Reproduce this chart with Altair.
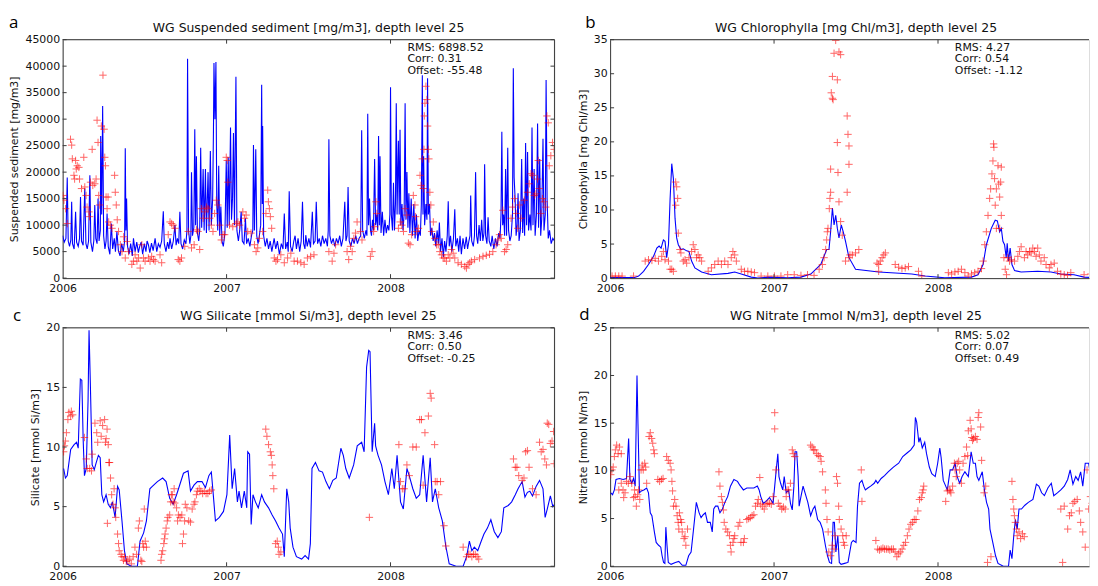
import altair as alt
import pandas as pd

# ---------------- data (decimal year, value) ----------------
A_LINE = [
(2006.000,8000),(2006.010,6800),(2006.020,7500),(2006.028,19000),(2006.034,7000),(2006.042,6000),(2006.050,7200),
(2006.055,14400),(2006.060,6500),(2006.070,5500),(2006.079,12500),(2006.085,6800),(2006.095,6000),(2006.103,7500),
(2006.109,15300),(2006.115,7000),(2006.125,6200),(2006.135,16900),(2006.142,6500),(2006.150,5500),(2006.158,7000),
(2006.166,19400),(2006.172,6800),(2006.182,5000),(2006.190,7000),(2006.196,13800),(2006.202,7500),(2006.210,6500),
(2006.216,15000),(2006.222,7000),(2006.230,9000),(2006.232,26800),(2006.238,12000),(2006.244,32500),(2006.250,8000),
(2006.258,5500),(2006.265,7000),(2006.271,12200),(2006.278,6000),(2006.288,4500),(2006.297,10300),(2006.305,5500),
(2006.315,7500),(2006.322,5000),(2006.331,8800),(2006.340,5200),(2006.350,4200),(2006.360,6500),(2006.370,5000),
(2006.378,7000),(2006.382,24500),(2006.386,9000),(2006.390,15000),(2006.396,6000),(2006.405,4500),(2006.415,6500),
(2006.425,4200),(2006.432,7500),(2006.442,5000),(2006.452,6800),(2006.462,4800),(2006.470,6000),(2006.479,6800),
(2006.488,4500),(2006.498,6500),(2006.508,5000),(2006.515,7000),(2006.523,6300),(2006.532,4800),(2006.542,6600),
(2006.552,5200),(2006.564,7500),(2006.574,5000),(2006.584,6500),(2006.594,5800),(2006.604,7000),(2006.614,12600),
(2006.620,6500),(2006.630,5000),(2006.640,6800),(2006.648,5500),(2006.655,7500),(2006.665,5500),(2006.675,7000),
(2006.685,10000),(2006.692,6200),(2006.700,7500),(2006.708,6500),(2006.715,12500),(2006.722,6500),(2006.732,5500),
(2006.742,7200),(2006.752,6500),(2006.758,9000),(2006.762,41400),(2006.768,9000),(2006.776,6500),(2006.782,8000),
(2006.786,20000),(2006.792,8000),(2006.800,9500),(2006.806,28100),(2006.811,10000),(2006.816,23000),(2006.822,8500),
(2006.830,7000),(2006.836,9000),(2006.842,24600),(2006.848,9500),(2006.857,20600),(2006.863,9000),(2006.871,20600),
(2006.877,8500),(2006.887,20000),(2006.893,9000),(2006.901,24000),(2006.907,10000),(2006.915,15000),(2006.920,28000),
(2006.923,40600),(2006.929,30000),(2006.935,40800),(2006.940,14000),(2006.946,9000),(2006.952,21200),(2006.958,8000),
(2006.965,13500),(2006.972,7000),(2006.980,6000),(2006.990,8500),(2006.998,22200),(2007.004,9500),(2007.010,22800),
(2007.016,10000),(2007.024,28400),(2007.030,11000),(2007.036,15000),(2007.042,27400),(2007.048,10000),(2007.057,38000),
(2007.063,9000),(2007.072,7000),(2007.080,9000),(2007.089,12500),(2007.096,7000),(2007.106,6500),(2007.115,11300),
(2007.122,6500),(2007.132,7500),(2007.142,6000),(2007.152,8000),(2007.160,9000),(2007.164,25100),(2007.170,9000),
(2007.178,24300),(2007.184,8000),(2007.192,6500),(2007.200,8000),(2007.208,10000),(2007.214,36500),(2007.218,14000),
(2007.220,28700),(2007.226,8000),(2007.236,6000),(2007.246,7500),(2007.256,5500),(2007.266,7000),(2007.276,5000),
(2007.290,7500),(2007.300,5500),(2007.310,7000),(2007.322,4500),(2007.334,6500),(2007.344,5500),(2007.352,12200),
(2007.360,5500),(2007.370,6800),(2007.376,5000),(2007.382,16400),(2007.390,6000),(2007.400,5000),(2007.410,7000),
(2007.418,8000),(2007.426,5500),(2007.436,7500),(2007.446,5000),(2007.455,7000),(2007.463,14400),(2007.470,6500),
(2007.478,5500),(2007.483,8100),(2007.492,6000),(2007.502,7500),(2007.512,5800),(2007.523,12500),(2007.530,6500),
(2007.540,7000),(2007.547,14400),(2007.555,6500),(2007.565,7500),(2007.575,6000),(2007.585,8000),(2007.595,6500),
(2007.605,7500),(2007.615,6000),(2007.620,9000),(2007.624,26200),(2007.630,8000),(2007.640,6500),(2007.650,7500),
(2007.660,6000),(2007.670,7500),(2007.680,6500),(2007.690,8000),(2007.700,6000),(2007.710,7500),(2007.721,14400),
(2007.728,7000),(2007.735,8000),(2007.741,17200),(2007.748,7000),(2007.758,6000),(2007.768,7500),(2007.778,6500),
(2007.788,8000),(2007.798,6500),(2007.808,7500),(2007.818,8000),(2007.824,27900),(2007.830,9000),(2007.840,7500),
(2007.850,9000),(2007.856,8000),(2007.861,31000),(2007.866,10000),(2007.872,15000),(2007.878,9000),(2007.884,8000),
(2007.890,11000),(2007.896,9000),(2007.903,22500),(2007.909,10000),(2007.916,12000),(2007.922,9000),(2007.927,26800),
(2007.932,10000),(2007.936,23000),(2007.942,8500),(2007.950,12500),(2007.958,8000),(2007.966,11000),(2007.974,8500),
(2007.982,10000),(2007.990,9000),(2007.996,12000),(2008.000,36000),(2008.005,12000),(2008.012,9000),(2008.018,18000),
(2008.024,9000),(2008.030,14000),(2008.035,33000),(2008.040,12000),(2008.044,20000),(2008.048,25900),(2008.053,12000),
(2008.058,28000),(2008.063,10000),(2008.070,14000),(2008.076,9000),(2008.083,12000),(2008.089,33000),(2008.094,11000),
(2008.100,20000),(2008.106,9500),(2008.112,16000),(2008.118,8500),(2008.126,15000),(2008.134,8000),(2008.142,14000),
(2008.150,7500),(2008.158,12000),(2008.166,7000),(2008.174,9000),(2008.182,8000),(2008.188,14000),(2008.194,38300),
(2008.198,12000),(2008.202,23000),(2008.208,10000),(2008.216,14000),(2008.222,11000),(2008.226,37700),(2008.231,12000),
(2008.238,14000),(2008.244,8000),(2008.252,9500),(2008.260,7000),(2008.268,8500),(2008.276,6000),(2008.284,9000),
(2008.292,6500),(2008.298,10500),(2008.305,5000),(2008.314,7500),(2008.322,4000),(2008.330,7000),(2008.338,5000),
(2008.346,8000),(2008.352,14500),(2008.358,6000),(2008.366,8000),(2008.374,5000),(2008.384,7500),(2008.392,13000),
(2008.398,6000),(2008.408,7500),(2008.416,5000),(2008.424,8000),(2008.432,4500),(2008.442,7500),(2008.452,5500),
(2008.462,7800),(2008.470,5500),(2008.478,7000),(2008.485,8000),(2008.489,15600),(2008.495,7000),(2008.505,6000),
(2008.512,8000),(2008.519,20000),(2008.525,8000),(2008.532,6500),(2008.540,10000),(2008.548,7000),(2008.556,11000),
(2008.563,7000),(2008.570,8500),(2008.574,21500),(2008.580,8000),(2008.588,6500),(2008.595,11500),(2008.602,7000),
(2008.612,6000),(2008.620,8000),(2008.630,5500),(2008.640,7500),(2008.650,6000),(2008.660,8500),(2008.668,7500),
(2008.674,12000),(2008.679,27600),(2008.684,10000),(2008.690,12000),(2008.696,8000),(2008.702,20600),(2008.708,8000),
(2008.715,24600),(2008.720,9000),(2008.728,7000),(2008.736,8000),(2008.744,12000),(2008.749,39600),(2008.754,19000),
(2008.760,15000),(2008.766,8000),(2008.772,10000),(2008.778,16000),(2008.784,7000),(2008.792,9000),(2008.800,22500),
(2008.806,8500),(2008.812,15000),(2008.818,8000),(2008.824,25500),(2008.830,10000),(2008.836,23800),(2008.842,9000),
(2008.850,12000),(2008.857,9000),(2008.863,28400),(2008.869,10000),(2008.876,20600),(2008.882,8000),(2008.890,12000),
(2008.897,29200),(2008.903,9500),(2008.910,22500),(2008.916,8000),(2008.922,11000),(2008.930,26300),(2008.936,9000),
(2008.944,12000),(2008.949,37400),(2008.955,15000),(2008.962,7500),(2008.970,9000),(2008.980,6500),(2008.990,7500),
(2009.000,7000)]

A_OBS = [
(2006.002,15600),(2006.008,14700),(2006.018,13100),(2006.028,10300),(2006.048,26200),(2006.055,25100),(2006.059,22500),
(2006.069,19400),(2006.073,18700),(2006.079,22200),(2006.083,20600),(2006.089,21200),(2006.099,20900),(2006.103,18700),
(2006.115,16900),(2006.129,22800),(2006.135,17200),(2006.143,15600),(2006.149,13400),(2006.160,12500),(2006.164,11600),
(2006.170,18100),(2006.180,24300),(2006.184,17500),(2006.196,17800),(2006.204,18700),(2006.210,29800),(2006.216,25600),
(2006.220,15600),(2006.226,13800),(2006.236,28700),(2006.246,38300),(2006.253,28100),(2006.257,22800),(2006.261,21200),
(2006.265,15300),(2006.271,13100),(2006.277,15300),(2006.281,10600),(2006.291,10000),(2006.301,9400),(2006.317,19400),
(2006.321,16200),(2006.327,13800),(2006.333,11000),(2006.341,8800),(2006.352,6300),(2006.362,5000),(2006.372,7800),
(2006.382,3800),(2006.392,6900),(2006.402,5000),(2006.422,2600),(2006.432,3200),(2006.442,4400),(2006.453,3200),
(2006.463,3800),(2006.473,1900),(2006.483,6300),(2006.493,3800),(2006.503,3200),(2006.523,3800),(2006.533,3200),
(2006.543,4100),(2006.554,3500),(2006.564,3200),(2006.594,4400),(2006.604,2900),(2006.644,8200),(2006.655,10600),
(2006.665,10300),(2006.675,10000),(2006.685,9400),(2006.705,3500),(2006.715,3200),(2006.725,3800),(2006.745,6000),
(2006.766,8800),(2006.786,5700),(2006.802,6300),(2006.816,9100),(2006.826,8800),(2006.836,5400),(2006.846,13100),
(2006.857,11300),(2006.867,12500),(2006.877,13400),(2006.887,13100),(2006.897,11300),(2006.907,10000),(2006.917,8800),
(2006.927,12200),(2006.937,14700),(2006.947,13800),(2006.958,10000),(2006.968,7200),(2006.978,8200),(2006.988,8200),
(2006.998,22800),(2007.004,22200),(2007.008,18100),(2007.018,10000),(2007.038,9700),(2007.059,10300),(2007.069,10600),
(2007.079,10000),(2007.099,12500),(2007.109,11300),(2007.119,11900),(2007.129,8800),(2007.149,8500),(2007.170,6300),
(2007.180,5000),(2007.190,5700),(2007.200,7500),(2007.220,8800),(2007.240,12200),(2007.251,16600),(2007.255,14400),
(2007.261,13100),(2007.267,11600),(2007.275,9400),(2007.291,3800),(2007.301,3200),(2007.311,3500),(2007.331,4400),
(2007.352,2900),(2007.372,3800),(2007.392,4700),(2007.412,3200),(2007.432,3200),(2007.453,2900),(2007.473,2600),
(2007.493,3800),(2007.513,4100),(2007.533,4400),(2007.624,5000),(2007.644,3200),(2007.655,4700),(2007.665,6300),
(2007.735,5000),(2007.745,3500),(2007.756,6000),(2007.766,5000),(2007.776,7500),(2007.786,8500),(2007.796,10600),
(2007.816,8800),(2007.826,7200),(2007.877,4100),(2007.887,5000),(2007.897,8800),(2007.903,9700),(2007.911,14400),
(2007.917,12200),(2008.048,9400),(2008.059,10600),(2008.069,10000),(2008.079,8800),(2008.089,13100),(2008.099,11900),
(2008.109,6600),(2008.119,6300),(2008.129,8200),(2008.139,15600),(2008.149,13800),(2008.153,11600),(2008.160,8800),
(2008.170,9400),(2008.180,19400),(2008.186,17500),(2008.194,22500),(2008.200,16900),(2008.204,24300),(2008.206,30600),
(2008.210,33000),(2008.216,36200),(2008.222,33700),(2008.226,28700),(2008.230,24300),(2008.234,22500),(2008.240,16200),
(2008.246,13800),(2008.251,8800),(2008.261,10600),(2008.271,7500),(2008.281,6300),(2008.291,6300),(2008.301,5000),
(2008.311,4400),(2008.321,3800),(2008.331,3800),(2008.341,3200),(2008.352,4400),(2008.362,3800),(2008.372,5400),
(2008.382,4700),(2008.392,3800),(2008.412,2900),(2008.432,2600),(2008.453,2200),(2008.463,1900),(2008.473,2600),
(2008.483,2900),(2008.493,3200),(2008.513,3500),(2008.543,3800),(2008.564,4100),(2008.584,4300),(2008.604,4500),
(2008.624,5000),(2008.644,6300),(2008.655,7200),(2008.665,8200),(2008.675,7500),(2008.685,12800),(2008.695,5000),
(2008.705,5400),(2008.715,6300),(2008.735,11300),(2008.745,13400),(2008.756,15000),(2008.766,12200),(2008.776,9400),
(2008.786,13800),(2008.796,11300),(2008.816,14700),(2008.836,16200),(2008.846,17800),(2008.857,19700),(2008.867,19400),
(2008.877,15600),(2008.887,15900),(2008.897,18700),(2008.901,22200),(2008.907,16900),(2008.917,12200),(2008.927,15000),
(2008.937,14400),(2008.947,13400),(2008.954,30600),(2008.962,29300),(2008.968,21200),(2008.978,23100),(2008.988,25600),
(2008.998,24300)]

B_LINE = [
(2006.000,0.1),(2006.150,0.1),(2006.174,0.3),(2006.204,1.0),(2006.234,2.0),(2006.265,3.2),(2006.285,4.4),(2006.299,4.7),
(2006.311,4.4),(2006.325,5.6),(2006.335,5.4),(2006.345,3.0),(2006.356,4.9),(2006.366,11.7),(2006.376,16.8),(2006.386,14.6),
(2006.396,8.8),(2006.406,5.9),(2006.416,4.9),(2006.432,4.2),(2006.446,4.3),(2006.467,4.0),(2006.481,3.9),(2006.497,2.5),
(2006.517,1.5),(2006.558,0.9),(2006.618,0.5),(2006.719,0.7),(2006.760,0.9),(2006.800,0.6),(2006.861,0.15),(2006.901,0.0),
(2006.962,0.15),(2007.083,0.05),(2007.164,0.15),(2007.224,0.6),(2007.285,2.0),(2007.321,4.2),(2007.335,4.2),(2007.345,6.8),
(2007.356,10.3),(2007.366,7.8),(2007.376,9.2),(2007.386,7.3),(2007.396,5.9),(2007.410,7.8),(2007.422,6.8),(2007.436,5.4),
(2007.457,3.0),(2007.497,1.3),(2007.638,0.9),(2007.840,0.6),(2007.921,0.3),(2008.042,0.05),(2008.204,0.15),(2008.244,0.5),
(2008.275,2.0),(2008.295,4.9),(2008.325,7.3),(2008.349,8.5),(2008.362,8.4),(2008.376,6.8),(2008.386,7.3),(2008.396,5.4),
(2008.406,4.9),(2008.416,3.0),(2008.422,5.1),(2008.430,2.5),(2008.440,4.4),(2008.451,2.0),(2008.467,1.1),(2008.507,0.9),
(2008.608,1.0),(2008.689,0.9),(2008.749,0.6),(2008.830,0.5),(2008.891,0.15),(2008.972,0.05)]

B_OBS = [
(2006.012,0.3),(2006.032,0.3),(2006.053,0.3),(2006.073,0.3),(2006.143,0.3),(2006.214,2.5),(2006.234,2.7),(2006.255,2.6),
(2006.275,2.9),(2006.295,2.5),(2006.315,3.2),(2006.325,3.9),(2006.335,2.7),(2006.356,2.5),(2006.366,1.3),(2006.376,1.3),
(2006.386,1.0),(2006.400,14.1),(2006.406,13.4),(2006.412,11.7),(2006.400,10.7),(2006.416,6.6),(2006.426,4.2),(2006.432,3.7),
(2006.446,2.5),(2006.457,2.7),(2006.467,2.2),(2006.481,3.0),(2006.497,3.9),(2006.507,4.9),(2006.517,4.2),(2006.527,3.0),
(2006.537,3.4),(2006.547,3.0),(2006.558,2.5),(2006.598,1.0),(2006.618,1.5),(2006.638,2.0),(2006.659,2.5),(2006.679,2.0),
(2006.699,2.5),(2006.719,2.0),(2006.739,3.0),(2006.749,3.9),(2006.760,3.4),(2006.770,2.5),(2006.800,1.3),(2006.820,1.0),
(2006.840,1.0),(2006.861,0.9),(2006.881,0.8),(2006.921,0.3),(2006.962,0.3),(2007.002,0.3),(2007.042,0.3),(2007.083,0.5),
(2007.123,0.5),(2007.164,0.4),(2007.204,0.5),(2007.244,0.4),(2007.275,1.3),(2007.295,2.0),(2007.305,3.0),(2007.315,4.2),
(2007.321,5.6),(2007.325,6.8),(2007.329,7.3),(2007.337,10.2),(2007.341,11.7),(2007.345,12.6),(2007.345,16.0),(2007.349,27.2),
(2007.356,29.6),(2007.356,26.4),(2007.360,26.2),(2007.366,33.0),(2007.376,34.9),(2007.386,29.1),(2007.386,19.9),(2007.390,15.5),
(2007.396,11.2),(2007.396,33.2),(2007.406,32.8),(2007.406,8.3),(2007.416,6.3),(2007.446,23.8),(2007.451,21.1),(2007.457,19.4),
(2007.457,16.7),(2007.446,12.6),(2007.463,3.4),(2007.436,2.5),(2007.457,3.0),(2007.477,3.4),(2007.497,3.7),(2007.517,4.2),
(2007.628,2.2),(2007.638,2.0),(2007.638,1.0),(2007.648,2.5),(2007.659,3.0),(2007.669,3.4),(2007.679,3.7),(2007.739,2.0),
(2007.760,1.6),(2007.780,1.4),(2007.800,1.5),(2007.820,1.7),(2007.881,1.0),(2007.901,0.3),(2008.063,0.8),(2008.083,0.6),
(2008.103,0.9),(2008.123,1.0),(2008.143,1.3),(2008.164,0.8),(2008.184,0.3),(2008.204,0.6),(2008.224,0.8),(2008.244,1.0),
(2008.265,1.4),(2008.275,2.5),(2008.285,4.9),(2008.295,6.8),(2008.305,9.2),(2008.315,11.7),(2008.321,13.1),(2008.329,15.3),
(2008.335,17.2),(2008.339,19.7),(2008.341,19.2),(2008.345,14.6),(2008.349,10.7),(2008.356,13.1),(2008.366,16.5),(2008.370,13.8),
(2008.376,11.9),(2008.382,14.1),(2008.386,16.3),(2008.386,9.2),(2008.376,7.3),(2008.356,7.3),(2008.402,3.0),(2008.410,1.3),
(2008.418,0.5),(2008.426,3.0),(2008.436,2.5),(2008.446,2.7),(2008.467,2.5),(2008.487,3.2),(2008.497,3.9),(2008.507,4.6),
(2008.527,3.0),(2008.537,3.9),(2008.547,3.4),(2008.558,3.9),(2008.568,3.7),(2008.578,4.4),(2008.588,3.9),(2008.598,3.2),
(2008.608,4.4),(2008.618,3.4),(2008.628,2.5),(2008.648,3.0),(2008.659,2.0),(2008.679,1.5),(2008.689,2.0),(2008.709,2.2),
(2008.729,1.0),(2008.749,0.6),(2008.770,0.5),(2008.790,0.4),(2008.810,0.8),(2008.891,0.5),(2008.931,0.6),(2008.952,0.5)]

C_LINE = [
(2006.006,8.2),(2006.017,7.4),(2006.028,7.6),(2006.049,9.8),(2006.070,10.2),(2006.085,10.4),(2006.095,9.9),(2006.108,15.7),
(2006.117,15.6),(2006.125,10.7),(2006.133,7.6),(2006.144,8.2),(2006.155,13.9),(2006.161,19.8),(2006.169,15.3),(2006.180,8.5),
(2006.193,8.1),(2006.203,8.6),(2006.218,9.3),(2006.229,9.1),(2006.239,6.0),(2006.250,5.4),(2006.265,6.0),(2006.278,5.2),
(2006.292,4.9),(2006.303,5.4),(2006.320,4.1),(2006.335,6.7),(2006.345,6.4),(2006.362,3.8),(2006.377,1.3),(2006.392,0.2),
(2006.419,0.0),(2006.456,0.0),(2006.472,2.1),(2006.494,2.8),(2006.511,3.8),(2006.532,6.5),(2006.547,6.7),(2006.578,7.1),
(2006.610,7.4),(2006.631,7.1),(2006.653,5.7),(2006.674,5.2),(2006.695,6.0),(2006.716,6.9),(2006.737,7.8),(2006.765,8.0),
(2006.780,6.3),(2006.801,6.8),(2006.822,7.1),(2006.850,7.1),(2006.871,6.6),(2006.892,7.6),(2006.907,7.9),(2006.917,6.3),
(2006.932,3.8),(2006.956,4.1),(2006.981,4.6),(2007.002,6.0),(2007.019,11.0),(2007.034,6.5),(2007.049,8.2),(2007.066,5.4),
(2007.076,6.3),(2007.091,4.9),(2007.108,6.3),(2007.123,4.9),(2007.129,9.6),(2007.140,9.4),(2007.150,3.5),(2007.161,6.0),
(2007.176,5.4),(2007.193,4.9),(2007.214,6.0),(2007.231,5.4),(2007.256,4.9),(2007.278,4.3),(2007.299,3.8),(2007.320,3.2),
(2007.341,2.7),(2007.352,0.8),(2007.367,6.5),(2007.379,5.4),(2007.388,3.2),(2007.405,1.6),(2007.426,0.8),(2007.458,0.6),
(2007.479,0.9),(2007.500,0.6),(2007.511,1.9),(2007.521,8.2),(2007.542,8.7),(2007.564,8.0),(2007.585,7.9),(2007.606,7.1),
(2007.627,6.5),(2007.648,7.2),(2007.669,7.4),(2007.697,9.9),(2007.712,9.3),(2007.727,8.2),(2007.748,7.4),(2007.775,8.5),
(2007.797,10.1),(2007.824,10.4),(2007.839,9.6),(2007.854,16.7),(2007.867,18.1),(2007.875,18.0),(2007.888,9.6),(2007.903,12.0),
(2007.909,10.1),(2007.924,9.3),(2007.945,8.5),(2007.966,7.1),(2007.987,6.0),(2008.008,8.2),(2008.023,6.5),(2008.040,9.3),
(2008.061,5.4),(2008.078,4.8),(2008.100,8.2),(2008.114,7.6),(2008.136,6.5),(2008.157,5.7),(2008.178,6.0),(2008.199,9.3),
(2008.220,5.4),(2008.242,9.1),(2008.256,5.4),(2008.273,6.5),(2008.294,4.9),(2008.316,3.8),(2008.337,1.7),(2008.358,0.2),
(2008.400,0.0),(2008.443,0.0),(2008.464,0.8),(2008.481,2.1),(2008.496,1.3),(2008.511,1.6),(2008.532,1.3),(2008.553,2.1),
(2008.570,2.7),(2008.591,3.2),(2008.612,3.9),(2008.633,2.9),(2008.655,2.4),(2008.676,2.9),(2008.691,4.9),(2008.718,5.1),
(2008.739,5.4),(2008.761,6.0),(2008.778,6.5),(2008.803,7.1),(2008.820,5.8),(2008.835,6.2),(2008.850,6.3),(2008.866,5.9),
(2008.888,6.7),(2008.909,7.2),(2008.930,6.5),(2008.943,4.1),(2008.956,4.8),(2008.975,5.9),(2008.990,5.0),(2009.000,5.2)]

C_OBS = [
(2006.006,9.6),(2006.011,10.1),(2006.017,10.5),(2006.023,11.2),(2006.032,12.3),(2006.038,12.9),(2006.049,12.6),(2006.053,13.0),
(2006.061,12.7),(2006.133,10.8),(2006.144,9.0),(2006.150,8.2),(2006.165,8.2),(2006.176,8.0),(2006.180,9.4),(2006.197,12.0),
(2006.208,11.2),(2006.214,10.4),(2006.229,12.2),(2006.235,10.9),(2006.244,11.8),(2006.256,12.3),(2006.261,10.4),(2006.265,10.7),
(2006.271,11.5),(2006.278,10.2),(2006.282,8.7),(2006.286,8.7),(2006.273,3.6),(2006.292,7.4),(2006.299,6.0),(2006.307,5.2),
(2006.314,6.5),(2006.320,4.9),(2006.324,4.1),(2006.335,2.7),(2006.341,1.9),(2006.345,1.3),(2006.356,1.0),(2006.362,0.8),
(2006.371,0.5),(2006.377,0.8),(2006.388,0.4),(2006.398,0.5),(2006.409,0.6),(2006.419,0.2),(2006.430,0.8),(2006.441,1.6),
(2006.451,1.0),(2006.462,3.2),(2006.468,3.8),(2006.477,0.5),(2006.483,0.4),(2006.489,1.9),(2006.494,1.6),(2006.498,4.8),
(2006.504,2.1),(2006.511,1.6),(2006.600,0.5),(2006.604,1.0),(2006.610,1.3),(2006.617,1.9),(2006.621,2.3),(2006.625,2.7),
(2006.631,3.2),(2006.638,3.8),(2006.642,4.1),(2006.653,4.3),(2006.659,5.4),(2006.663,6.0),(2006.669,6.0),(2006.674,5.4),
(2006.680,6.5),(2006.684,5.3),(2006.695,4.9),(2006.701,3.8),(2006.706,4.3),(2006.716,4.1),(2006.727,4.3),(2006.731,1.9),
(2006.737,2.7),(2006.744,3.8),(2006.748,5.2),(2006.758,4.9),(2006.769,3.8),(2006.780,3.7),(2006.790,4.8),(2006.801,5.2),
(2006.807,5.4),(2006.816,6.0),(2006.822,6.3),(2006.833,6.5),(2006.843,6.3),(2006.854,6.1),(2006.864,6.3),(2006.875,6.1),
(2006.886,6.1),(2006.896,6.3),(2006.907,6.4),(2007.239,11.5),(2007.246,10.9),(2007.256,10.2),(2007.267,9.6),(2007.273,9.3),
(2007.278,8.5),(2007.282,7.6),(2007.288,6.5),(2007.299,1.9),(2007.309,2.1),(2007.316,1.6),(2007.320,1.0),(2007.331,1.2),
(2007.871,4.1),(2008.051,10.2),(2008.061,7.1),(2008.072,6.5),(2008.083,6.5),(2008.100,8.5),(2008.114,7.6),(2008.136,10.0),
(2008.157,10.0),(2008.178,12.3),(2008.189,12.3),(2008.199,6.8),(2008.210,11.2),(2008.231,12.6),(2008.242,14.5),(2008.248,14.1),
(2008.269,10.2),(2008.273,7.1),(2008.284,7.1),(2008.294,6.0),(2008.305,7.1),(2008.326,3.4),(2008.337,1.7),(2008.443,1.6),
(2008.464,0.8),(2008.475,1.0),(2008.485,1.0),(2008.496,0.8),(2008.506,1.0),(2008.517,1.0),(2008.528,0.8),(2008.538,0.6),
(2008.750,9.0),(2008.761,8.3),(2008.771,8.3),(2008.782,7.6),(2008.803,7.2),(2008.814,7.4),(2008.824,9.6),(2008.835,9.7),
(2008.845,8.3),(2008.866,6.5),(2008.888,6.0),(2008.909,10.4),(2008.919,9.6),(2008.930,9.8),(2008.941,9.0),(2008.951,8.5),
(2008.956,12.0),(2008.965,11.9),(2008.975,10.3),(2008.985,10.5),(2008.995,11.3),(2008.998,8.6)]

D_LINE = [
(2006.004,7.7),(2006.015,7.5),(2006.026,8.0),(2006.036,9.1),(2006.057,9.2),(2006.079,9.1),(2006.100,9.2),(2006.113,13.4),
(2006.121,9.1),(2006.132,8.7),(2006.143,9.2),(2006.153,8.4),(2006.164,20.0),(2006.170,14.9),(2006.179,7.7),(2006.191,7.9),
(2006.206,8.0),(2006.223,8.2),(2006.234,7.7),(2006.245,5.6),(2006.255,5.3),(2006.270,3.6),(2006.281,2.5),(2006.296,2.2),
(2006.309,2.0),(2006.317,1.1),(2006.326,0.4),(2006.334,0.3),(2006.340,4.1),(2006.347,2.2),(2006.355,0.4),(2006.372,0.2),
(2006.398,0.4),(2006.419,0.5),(2006.440,0.1),(2006.462,0.1),(2006.479,1.1),(2006.494,1.5),(2006.509,3.9),(2006.526,6.7),
(2006.543,5.6),(2006.555,5.1),(2006.568,5.4),(2006.581,5.6),(2006.594,4.6),(2006.611,4.6),(2006.623,3.6),(2006.632,6.0),
(2006.643,6.3),(2006.657,6.3),(2006.670,5.6),(2006.685,6.0),(2006.700,6.7),(2006.717,7.3),(2006.734,8.4),(2006.755,9.1),
(2006.777,8.9),(2006.791,8.5),(2006.813,8.0),(2006.834,8.2),(2006.855,8.2),(2006.877,8.2),(2006.898,8.4),(2006.909,8.0),
(2006.919,7.3),(2006.934,6.6),(2006.951,6.8),(2006.972,7.2),(2006.994,6.6),(2007.004,8.4),(2007.015,10.4),(2007.023,11.8),
(2007.030,9.4),(2007.040,8.7),(2007.053,8.0),(2007.062,9.4),(2007.074,7.7),(2007.089,8.0),(2007.100,6.6),(2007.111,5.9),
(2007.121,8.4),(2007.128,12.0),(2007.138,12.0),(2007.147,9.4),(2007.153,6.3),(2007.164,7.3),(2007.177,8.4),(2007.189,7.7),
(2007.206,6.7),(2007.223,5.3),(2007.238,6.0),(2007.249,6.3),(2007.266,4.9),(2007.281,4.6),(2007.296,3.9),(2007.313,2.2),
(2007.326,1.1),(2007.338,0.4),(2007.351,0.3),(2007.360,4.6),(2007.368,4.6),(2007.377,1.5),(2007.389,3.2),(2007.398,0.4),
(2007.409,0.2),(2007.430,0.3),(2007.451,0.4),(2007.472,2.5),(2007.483,2.7),(2007.500,2.5),(2007.509,6.3),(2007.521,8.7),
(2007.536,9.0),(2007.547,8.4),(2007.557,8.0),(2007.572,8.2),(2007.589,8.4),(2007.611,8.7),(2007.621,9.0),(2007.632,8.7),
(2007.653,9.2),(2007.674,9.5),(2007.696,9.9),(2007.728,10.4),(2007.760,10.8),(2007.785,11.5),(2007.813,11.9),(2007.834,12.2),
(2007.855,12.7),(2007.862,15.6),(2007.870,15.1),(2007.883,13.0),(2007.891,13.5),(2007.904,12.4),(2007.919,13.0),(2007.930,11.8),
(2007.947,10.4),(2007.962,9.7),(2007.983,9.4),(2007.998,10.8),(2008.011,12.4),(2008.019,11.4),(2008.032,9.0),(2008.047,8.4),
(2008.057,8.0),(2008.074,10.1),(2008.089,10.1),(2008.104,10.8),(2008.117,9.4),(2008.132,8.7),(2008.147,9.4),(2008.164,9.9),
(2008.185,9.4),(2008.202,12.0),(2008.215,10.8),(2008.228,10.8),(2008.238,9.4),(2008.249,9.0),(2008.270,9.9),(2008.283,8.0),
(2008.296,6.7),(2008.309,6.0),(2008.317,3.9),(2008.334,2.5),(2008.351,1.1),(2008.366,0.3),(2008.398,0.0),(2008.430,0.0),
(2008.440,1.7),(2008.451,0.8),(2008.462,3.2),(2008.472,4.9),(2008.483,3.9),(2008.494,6.0),(2008.509,6.0),(2008.530,6.4),
(2008.551,6.7),(2008.579,7.0),(2008.600,8.6),(2008.615,8.4),(2008.632,7.7),(2008.649,7.4),(2008.670,8.2),(2008.691,8.7),
(2008.706,7.4),(2008.728,7.7),(2008.749,8.0),(2008.770,8.4),(2008.791,9.1),(2008.806,10.1),(2008.823,8.6),(2008.840,9.4),
(2008.855,9.0),(2008.870,9.9),(2008.883,8.4),(2008.898,10.8),(2008.919,10.8),(2008.934,9.0),(2008.947,7.3),(2008.955,8.0),
(2008.962,7.2),(2008.970,8.0),(2008.975,7.7)]

D_OBS = [
(2006.004,9.6),(2006.011,10.1),(2006.019,10.4),(2006.026,11.5),(2006.032,12.2),(2006.040,12.7),(2006.049,11.8),(2006.057,12.5),
(2006.068,11.8),(2006.053,8.0),(2006.068,8.7),(2006.079,8.0),(2006.083,7.2),(2006.091,7.7),(2006.100,8.9),(2006.111,8.7),
(2006.121,9.4),(2006.132,8.7),(2006.143,7.2),(2006.149,8.0),(2006.153,7.3),(2006.160,6.3),(2006.168,7.5),(2006.174,8.0),
(2006.181,7.0),(2006.189,10.1),(2006.196,10.6),(2006.202,10.1),(2006.211,10.8),(2006.217,10.4),(2006.223,8.7),(2006.238,13.6),
(2006.245,14.0),(2006.253,13.4),(2006.260,12.9),(2006.266,12.2),(2006.270,11.8),(2006.291,9.1),(2006.302,8.9),(2006.313,9.1),
(2006.323,9.2),(2006.345,11.5),(2006.355,11.1),(2006.366,10.8),(2006.372,10.1),(2006.377,8.9),(2006.381,7.9),(2006.387,6.3),
(2006.394,7.0),(2006.402,6.3),(2006.409,5.3),(2006.415,4.6),(2006.419,3.9),(2006.423,5.6),(2006.430,4.9),(2006.436,4.6),
(2006.440,3.6),(2006.451,2.9),(2006.457,3.1),(2006.462,2.2),(2006.472,3.9),(2006.664,9.9),(2006.670,8.4),(2006.679,7.3),
(2006.685,6.7),(2006.691,5.9),(2006.696,4.6),(2006.706,3.9),(2006.717,3.6),(2006.728,3.2),(2006.734,2.2),(2006.738,1.5),
(2006.749,2.5),(2006.755,2.9),(2006.760,3.2),(2006.781,4.2),(2006.791,4.6),(2006.798,2.5),(2006.813,2.5),(2006.819,2.9),
(2006.834,4.9),(2006.845,5.0),(2006.855,5.1),(2006.866,5.3),(2006.877,5.4),(2006.887,6.3),(2006.898,6.6),(2006.904,7.0),
(2006.913,9.3),(2006.919,6.5),(2006.930,6.3),(2006.940,6.0),(2006.951,6.5),(2006.962,6.6),(2006.972,6.6),(2006.983,6.5),
(2006.994,7.3),(2007.004,16.1),(2007.004,14.4),(2007.011,10.1),(2007.026,6.6),(2007.036,6.3),(2007.047,6.0),(2007.057,6.2),
(2007.068,6.0),(2007.074,7.3),(2007.079,8.0),(2007.089,8.0),(2007.100,8.7),(2007.111,12.2),(2007.117,11.8),(2007.126,11.5),
(2007.223,12.7),(2007.232,12.5),(2007.240,12.2),(2007.249,12.2),(2007.260,11.8),(2007.270,11.6),(2007.281,11.5),(2007.287,11.0),
(2007.296,9.9),(2007.313,8.0),(2007.317,6.6),(2007.323,4.9),(2007.330,3.6),(2007.334,1.5),(2007.345,1.1),(2007.355,2.2),
(2007.366,1.8),(2007.372,3.2),(2007.381,9.4),(2007.387,8.7),(2007.394,6.3),(2007.398,4.9),(2007.409,3.9),(2007.419,3.2),
(2007.423,2.5),(2007.430,2.2),(2007.440,3.2),(2007.532,10.1),(2007.536,6.8),(2007.621,2.7),(2007.632,1.8),(2007.643,1.7),
(2007.653,1.8),(2007.664,1.9),(2007.674,1.8),(2007.685,1.8),(2007.696,1.8),(2007.706,1.7),(2007.717,1.8),(2007.728,1.8),
(2007.738,1.5),(2007.749,1.0),(2007.760,1.3),(2007.770,1.5),(2007.781,1.8),(2007.791,2.2),(2007.802,2.5),(2007.813,3.2),
(2007.823,3.9),(2007.834,4.4),(2007.845,4.6),(2007.855,4.9),(2007.866,4.9),(2007.877,5.8),(2007.887,7.0),(2007.898,7.2),
(2007.904,7.7),(2007.909,8.0),(2007.913,8.4),(2008.047,6.8),(2008.057,7.9),(2008.068,8.0),(2008.074,7.9),(2008.079,7.7),
(2008.089,8.4),(2008.100,10.8),(2008.104,10.1),(2008.111,9.4),(2008.117,10.8),(2008.126,11.0),(2008.132,10.1),(2008.143,8.7),
(2008.153,10.8),(2008.164,11.5),(2008.174,12.5),(2008.181,11.6),(2008.185,14.2),(2008.196,15.3),(2008.202,14.4),(2008.206,13.5),
(2008.211,13.2),(2008.217,13.4),(2008.228,13.6),(2008.238,13.3),(2008.245,15.6),(2008.249,16.1),(2008.260,14.6),(2008.266,11.1),
(2008.281,7.7),(2008.291,8.4),(2008.302,0.4),(2008.323,1.0),(2008.451,8.9),(2008.457,7.0),(2008.462,6.0),(2008.466,5.3),
(2008.472,4.6),(2008.479,3.9),(2008.483,3.2),(2008.494,3.6),(2008.504,2.9),(2008.515,3.4),(2008.526,3.1),(2008.749,6.0),
(2008.760,0.4),(2008.770,6.3),(2008.791,3.9),(2008.802,5.3),(2008.813,5.6),(2008.823,6.6),(2008.834,6.8),(2008.849,7.0),
(2008.862,5.8),(2008.870,4.6),(2008.883,3.6),(2008.898,2.0),(2008.909,10.1),(2008.919,6.0),(2008.930,7.3),(2008.940,6.6),
(2008.951,9.6),(2008.960,8.4),(2008.962,12.5)]

TITLES = ["WG Suspended sediment [mg/m3], depth level 25", "WG Chlorophylla [mg Chl/m3], depth level 25",
          "WG Silicate [mmol Si/m3], depth level 25", "WG Nitrate [mmol N/m3], depth level 25"]
YTITLES = ["Suspended sediment [mg/m3]", "Chlorophylla [mg Chl/m3]", "Silicate [mmol Si/m3]", "Nitrate [mmol N/m3]"]
STATS = [["RMS: 6898.52", "Corr: 0.31", "Offset: -55.48"],
         ["RMS: 4.27", "Corr: 0.54", "Offset: -1.12"],
         ["RMS: 3.46", "Corr: 0.50", "Offset: -0.25"],
         ["RMS: 5.02", "Corr: 0.07", "Offset: 0.49"]]
LETTERS = ["a", "b", "c", "d"]
YTICKS = [[0, 5000, 10000, 15000, 20000, 25000, 30000, 35000, 40000, 45000],
          [0, 5, 10, 15, 20, 25, 30, 35],
          [0, 5, 10, 15, 20],
          [0, 5, 10, 15, 20, 25]]
XTICKS = [2006, 2007, 2008]
X_START = 2006
X_END_FULL = 2009
X_END_CROP = 2008.921

FONT = "DejaVu Sans"
FRAME = "#3a3a3a"
W_FULL, W_CROP, H = 495, 482, 240
PLUS = "M-1,0L1,0M0,-1L0,1"


def panel(i, line, obs, width, xmax, letter_x, letter_y, right_border):
    xs = alt.Scale(domain=[X_START, xmax], nice=False, zero=False)
    ys = alt.Scale(domain=[0, YTICKS[i][-1]], nice=False, zero=False)
    ld = pd.DataFrame(line, columns=["t", "v"])
    od = pd.DataFrame(obs, columns=["t", "v"])

    xaxis = alt.Axis(values=XTICKS, format="d", ticks=False, grid=False, domain=True,
                     domainColor=FRAME, domainWidth=1, labelFont=FONT, labelFontSize=11,
                     labelColor="#111", labelPadding=4, labelFlush=False, title=None)
    yaxis = alt.Axis(values=YTICKS[i], format="d", ticks=False, grid=False, domain=True,
                     domainColor=FRAME, domainWidth=1, labelFont=FONT, labelFontSize=11,
                     labelColor="#111", labelPadding=3, labelFlush=False,
                     title=YTITLES[i], titleFont=FONT, titleFontSize=11, titleFontWeight="normal",
                     titleColor="#111", titlePadding=5)
    X = alt.X("t:Q", scale=xs, axis=xaxis)
    Y = alt.Y("v:Q", scale=ys, axis=yaxis)

    line_l = alt.Chart(ld).mark_line(color="#0000ff", strokeWidth=1.1, clip=True).encode(x=X, y=Y)
    pts = alt.Chart(od).mark_point(shape=PLUS, size=56, color="#ff0000", filled=False,
                                   strokeWidth=1, opacity=0.6, clip=True).encode(x=X, y=Y)
    ytd = pd.DataFrame({"v": YTICKS[i]})
    xtd = pd.DataFrame({"t": XTICKS[1:]})
    yt_left = alt.Chart(ytd).mark_rule(color=FRAME, strokeWidth=1).encode(
        y=Y, x=alt.value(0), x2=alt.value(4))
    xt_bot = alt.Chart(xtd).mark_rule(color=FRAME, strokeWidth=1).encode(
        x=X, y=alt.value(H - 4), y2=alt.value(H))
    xt_top = alt.Chart(xtd).mark_rule(color=FRAME, strokeWidth=1).encode(
        x=X, y=alt.value(0), y2=alt.value(4))
    one = pd.DataFrame({"k": [LETTERS[i]], "s": ["\n".join(STATS[i])], "ti": [TITLES[i]]})
    top_frame = alt.Chart(one).mark_rule(color=FRAME, strokeWidth=1).encode(
        x=alt.value(0), x2=alt.value(width), y=alt.value(0))
    letter = alt.Chart(one).mark_text(align="left", baseline="alphabetic", font="Open Sans",
                                      fontSize=17, color="#000").encode(
        x=alt.value(letter_x), y=alt.value(letter_y), text="k:N")
    title = alt.Chart(one).mark_text(align="center", baseline="alphabetic", font=FONT,
                                     fontSize=12.5, color="#111").encode(
        x=alt.value(247.5), y=alt.value(-8), text="ti:N")
    stats = alt.Chart(one).mark_text(align="left", baseline="top", font=FONT, fontSize=11,
                                     lineBreak="\n", lineHeight=11.8, color="#111").encode(
        x=alt.value(347), y=alt.value(2), text="s:N")
    layers = [line_l, pts, yt_left, xt_bot, xt_top, top_frame, letter, title, stats]
    if right_border:
        yt_right = alt.Chart(ytd).mark_rule(color=FRAME, strokeWidth=1).encode(
            y=Y, x=alt.value(width - 4), x2=alt.value(width))
        right_frame = alt.Chart(one).mark_rule(color=FRAME, strokeWidth=1).encode(
            x=alt.value(width), y=alt.value(0), y2=alt.value(H))
        layers += [yt_right, right_frame]
    return alt.layer(*layers).properties(width=width, height=H)


pa = panel(0, A_LINE, A_OBS, W_FULL, X_END_FULL, -54, -12, True)
pb = panel(1, B_LINE, B_OBS, W_CROP, X_END_CROP, -25, -12, False)
pc = panel(2, C_LINE, C_OBS, W_FULL, X_END_FULL, -50, -7, True)
pd_ = panel(3, D_LINE, D_OBS, W_CROP, X_END_CROP, -31, -8, False)

chart = alt.vconcat(
    alt.hconcat(pa, pb, spacing=21),
    alt.hconcat(pc, pd_, spacing=21),
    spacing=11,
).properties(padding={"top": 3, "left": 0, "right": 0, "bottom": 0}
).configure_view(stroke=None).configure(background="white")

chart.save("out.html", embed_options={"renderer": "svg", "actions": False})
